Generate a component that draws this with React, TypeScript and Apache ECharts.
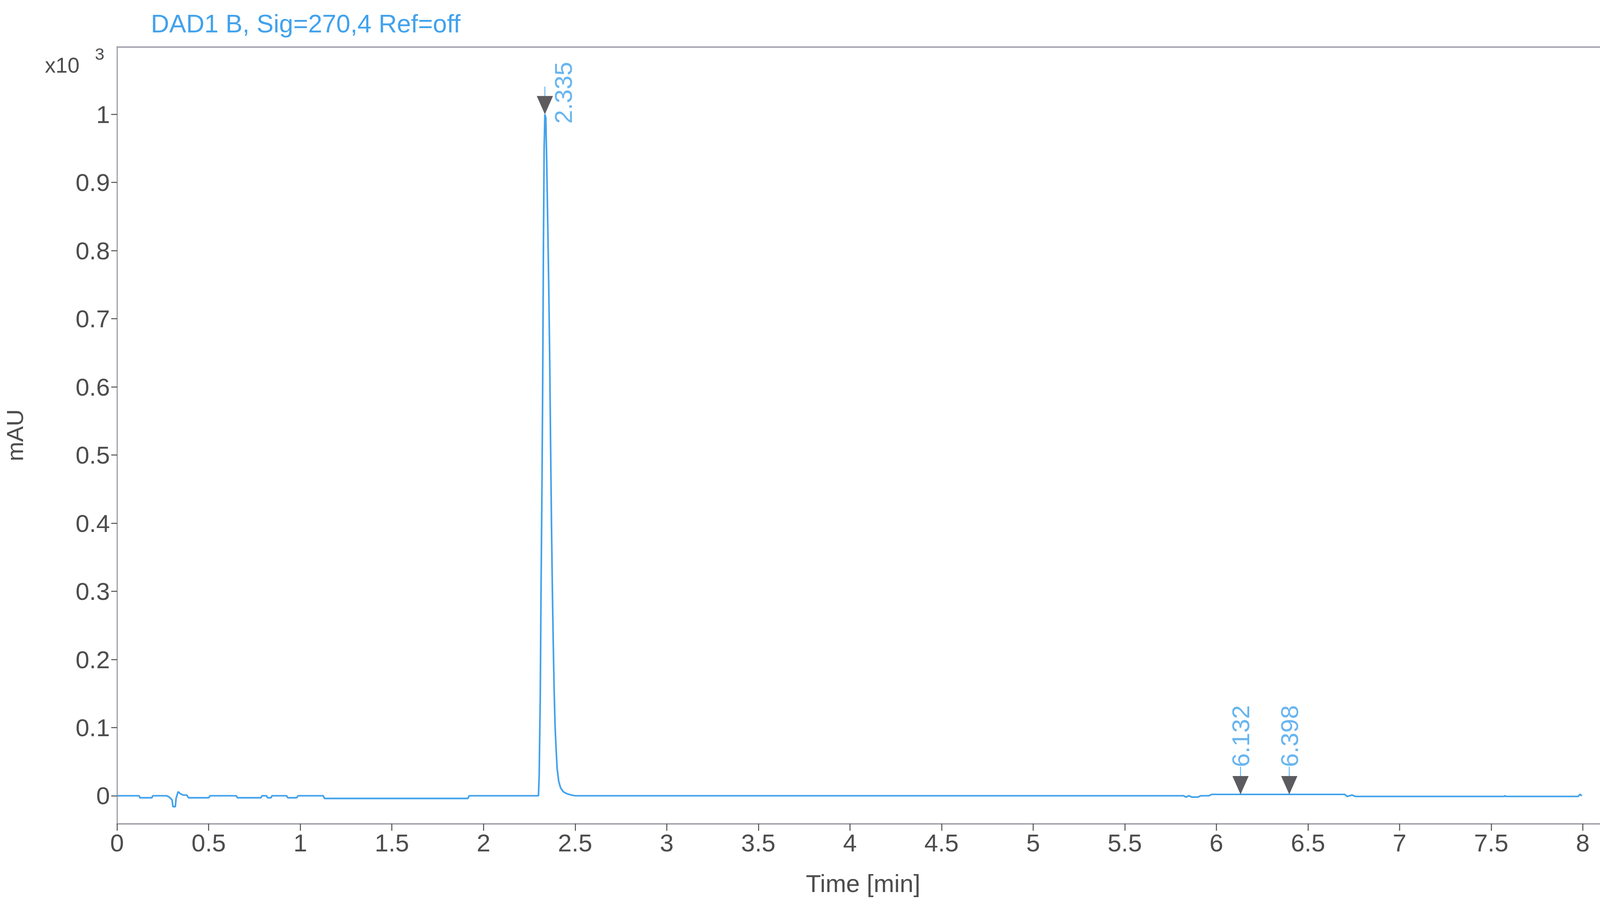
import React, { useEffect, useRef } from "react";
import * as echarts from "echarts";

// Chromatogram trace: time [min] and signal [x10^3 mAU]
const traceTime = [
  0.0, 0.12, 0.125, 0.19, 0.195, 0.27, 0.285, 0.3, 0.305, 0.318, 0.322, 0.333, 0.345, 0.36, 0.38, 0.39,
  0.5, 0.508, 0.65, 0.658, 0.785, 0.792, 0.815, 0.822, 0.84, 0.846, 0.925, 0.932, 0.98, 0.988,
  1.125, 1.132, 1.915, 1.922, 2.29, 2.3, 2.304, 2.31, 2.314, 2.319, 2.323, 2.327, 2.331, 2.335,
  2.34, 2.345, 2.35, 2.356, 2.361, 2.366, 2.371, 2.376, 2.381, 2.386, 2.391, 2.397, 2.402, 2.41,
  2.42, 2.435, 2.455, 2.48, 2.5, 5.82, 5.835, 5.85, 5.865, 5.9, 5.915, 5.96, 5.975, 6.7, 6.715,
  6.74, 6.76, 6.87, 6.885, 7.57, 7.575, 7.58, 7.975, 7.985, 7.995,
];
const traceSignal = [
  0.0, 0.0, -0.003, -0.003, 0.0, 0.0, -0.002, -0.006, -0.016, -0.016, -0.004, 0.006, 0.003, 0.001, 0.001, -0.003,
  -0.003, 0.0, 0.0, -0.003, -0.003, 0.0, 0.0, -0.003, -0.003, 0.0, 0.0, -0.003, -0.003, 0.0,
  0.0, -0.004, -0.004, 0.0, 0.0, 0.0, 0.03, 0.15, 0.3, 0.45, 0.6, 0.8, 0.95, 1.0,
  0.995, 0.93, 0.85, 0.75, 0.65, 0.52, 0.4, 0.3, 0.22, 0.15, 0.1, 0.065, 0.04, 0.022,
  0.012, 0.006, 0.003, 0.001, 0.0, 0.0, -0.002, 0.0, -0.002, -0.002, 0.0, 0.0, 0.002, 0.002, -0.001,
  0.001, -0.001, -0.001, -0.001, -0.001, 0.0, -0.001, -0.001, 0.002, 0.0,
];

// Integrated peaks
const peakTimes = [2.335, 6.132, 6.398];
const peakHeights = [1.0, 0.002, 0.002];
const peakLabels = ["2.335", "6.132", "6.398"];

// Axis ticks
const xTicks = [0, 0.5, 1, 1.5, 2, 2.5, 3, 3.5, 4, 4.5, 5, 5.5, 6, 6.5, 7, 7.5, 8];
const yTicks = [0, 0.1, 0.2, 0.3, 0.4, 0.5, 0.6, 0.7, 0.8, 0.9, 1];

const FONT = "'Liberation Sans', Arial, sans-serif";
const BLUE = "#42a2ec";
const GREY = "#4d4d4d";
const REF_W = 4920;
const REF_H = 2330;

export default function App() {
  const ref = useRef<HTMLDivElement>(null);
  const vw = typeof window !== "undefined" ? window.innerWidth : REF_W;
  const vh = typeof window !== "undefined" ? window.innerHeight : REF_H;

  useEffect(() => {
    document.documentElement.style.margin = "0";
    document.documentElement.style.overflow = "hidden";
    document.body.style.margin = "0";
    document.body.style.overflow = "hidden";
    document.body.style.background = "#ffffff";
    if (!ref.current) return;
    const chart = echarts.init(ref.current, undefined, { renderer: "svg" });
    const sx = vw / REF_W;
    const sy = vh / REF_H;
    const X = (v: number) => v * sx; // horizontal distances
    const Y = (v: number) => v * sy; // vertical distances
    const F = (v: number) => v * sx; // font sizes / line widths

    const trace = traceTime.map((t, i) => [t, traceSignal[i]]);
    const peaks = peakTimes.map((t, i) => [t, peakHeights[i]]);
    const labelItems = peakTimes.map((t, i) => ({
      value: [t, peakHeights[i]],
      label: {
        formatter: peakLabels[i],
        offset: i === 0 ? [Y(-24), X(56)] : [Y(70), 0],
      },
    }));

    chart.setOption({
      animation: false,
      backgroundColor: "#ffffff",
      textStyle: { fontFamily: FONT },
      title: {
        text: "DAD1 B, Sig=270,4 Ref=off",
        left: X(464),
        top: Y(28),
        padding: 0,
        textStyle: { color: BLUE, fontSize: F(78), fontWeight: "normal", fontFamily: FONT },
      },
      grid: { left: X(360), right: 0, top: Y(120), bottom: Y(221), containLabel: false },
      xAxis: [
        {
          type: "value",
          min: 0,
          max: 8.094,
          name: "Time [min]",
          nameLocation: "middle",
          nameGap: Y(121),
          nameTextStyle: {
            color: GREY,
            fontSize: F(76),
            fontFamily: FONT,
            padding: [0, 0, 0, X(28)],
          },
          axisLine: { show: true, onZero: false, lineStyle: { color: "#9c9ca8", width: F(4) } },
          axisTick: {
            show: true,
            length: Y(18),
            lineStyle: { color: GREY, width: F(3) },
            customValues: xTicks,
          },
          axisLabel: {
            color: GREY,
            fontSize: F(76),
            margin: Y(17),
            fontFamily: FONT,
            customValues: xTicks,
            formatter: (v: number) => String(v),
          },
          splitLine: { show: false },
        },
        {
          type: "value",
          position: "top",
          min: 0,
          max: 8.094,
          axisLine: { show: true, onZero: false, lineStyle: { color: "#9c9ca8", width: F(4) } },
          axisTick: { show: false },
          axisLabel: { show: false },
          splitLine: { show: false },
        },
      ],
      yAxis: {
        type: "value",
        min: -0.041,
        max: 1.099,
        name: "mAU",
        nameLocation: "middle",
        nameGap: X(278),
        nameTextStyle: { color: GREY, fontSize: F(72), fontFamily: FONT },
        axisLine: { show: true, onZero: false, lineStyle: { color: "#8c8c9a", width: F(3) } },
        axisTick: {
          show: true,
          length: X(18),
          lineStyle: { color: GREY, width: F(3) },
          customValues: yTicks,
        },
        axisLabel: {
          color: GREY,
          fontSize: F(76),
          margin: X(22),
          fontFamily: FONT,
          customValues: yTicks,
          formatter: (v: number) => String(Number(v.toFixed(1))),
        },
        splitLine: { show: false },
      },
      graphic: [
        {
          type: "text",
          left: X(138),
          top: Y(139),
          style: { text: "x10", fill: GREY, fontSize: F(66), fontFamily: FONT },
        },
        {
          type: "text",
          left: X(292),
          top: Y(116),
          style: { text: "3", fill: GREY, fontSize: F(52), fontFamily: FONT },
        },
      ],
      series: [
        {
          type: "line",
          data: trace,
          showSymbol: false,
          symbol: "none",
          lineStyle: { color: BLUE, width: F(5) },
          clip: true,
          z: 2,
        },
        {
          type: "scatter",
          data: peaks,
          symbol: "rect",
          symbolSize: [F(3), Y(24)],
          symbolOffset: [0, Y(-59)],
          itemStyle: { color: BLUE },
          z: 3,
        },
        {
          type: "scatter",
          data: peaks,
          symbol: "path://M0,0L50,0L25,47Z",
          symbolSize: [X(50), Y(47)],
          symbolOffset: [0, Y(-23.5)],
          itemStyle: { color: "#333338" },
          z: 4,
        },
        {
          type: "scatter",
          data: labelItems,
          symbol: "circle",
          symbolSize: 1,
          itemStyle: { color: "rgba(0,0,0,0)" },
          label: {
            show: true,
            position: "inside",
            rotate: 90,
            align: "left",
            verticalAlign: "middle",
            color: BLUE,
            fontSize: F(76),
            fontFamily: FONT,
          },
          z: 5,
        },
      ],
    });

    return () => chart.dispose();
  }, [vw, vh]);

  return (
    <div ref={ref} style={{ width: `${vw}px`, height: `${vh}px`, overflow: "hidden" }} />
  );
}
